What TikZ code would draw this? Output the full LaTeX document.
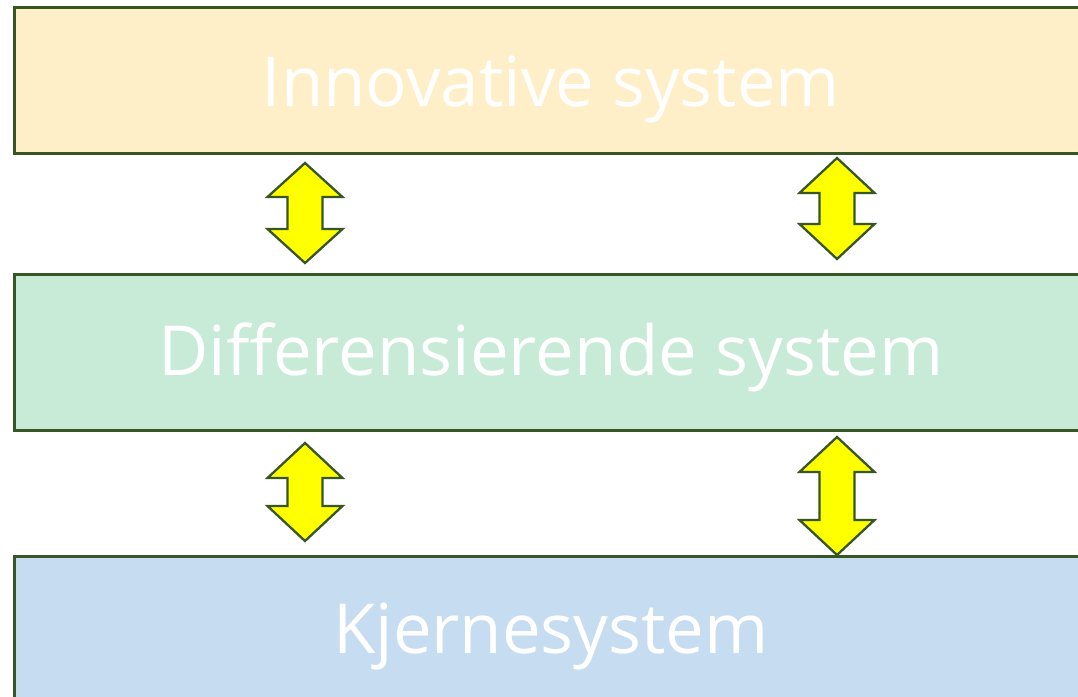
\documentclass[tikz,border=0pt]{standalone}
\usepackage{fontspec}
\setmainfont{Open Sans}
\definecolor{edge}{HTML}{375623}
\definecolor{fillA}{HTML}{FEEFC8}
\definecolor{fillB}{HTML}{C7EBD6}
\definecolor{fillC}{HTML}{C6DCF0}
\definecolor{arrowfill}{HTML}{FFFF00}
\tikzset{
  layerbox/.style={draw=edge, line width=2.7pt, anchor=north west, inner sep=0pt},
  layertext/.style={text=white, font=\fontsize{69}{69}\selectfont, anchor=base},
  blockarrow/.style={draw=edge, fill=arrowfill, line width=2.3pt, line join=miter},
}
\newcommand{\darrowshape}[4]{% x, top, bottom, headlen
  \draw[blockarrow] (#1,-#2) -- (#1+37.5,-#2-#4) -- (#1+17.5,-#2-#4) -- (#1+17.5,-#3+#4)
    -- (#1+37.5,-#3+#4) -- (#1,-#3) -- (#1-37.5,-#3+#4) -- (#1-17.5,-#3+#4)
    -- (#1-17.5,-#2-#4) -- (#1-37.5,-#2-#4) -- cycle;}
\begin{document}
\begin{tikzpicture}[x=1pt,y=1pt]
\useasboundingbox (0,0) rectangle (1078,-696);
\clip (0,0) rectangle (1078,-696);
\fill[white] (0,0) rectangle (1078,-696);
\node[layerbox, fill=fillA, minimum width=1077pt, minimum height=146pt] (top) at (13,-6) {};
\node[layerbox, fill=fillB, minimum width=1077pt, minimum height=156pt] (mid) at (13,-273) {};
\node[layerbox, fill=fillC, minimum width=1077pt, minimum height=160pt] (bot) at (13,-555) {};
\node[layertext] (toplabel) at (551,-106) {Innovative system};
\node[layertext] (midlabel) at (551,-375) {Differensierende system};
\node[layertext] (botlabel) at (551,-653) {Kjernesystem};
\darrowshape{305}{163}{263}{34}
\darrowshape{837}{158}{259}{35}
\darrowshape{305}{443}{541}{35}
\darrowshape{837}{437}{555}{35}
\end{tikzpicture}
\end{document}
